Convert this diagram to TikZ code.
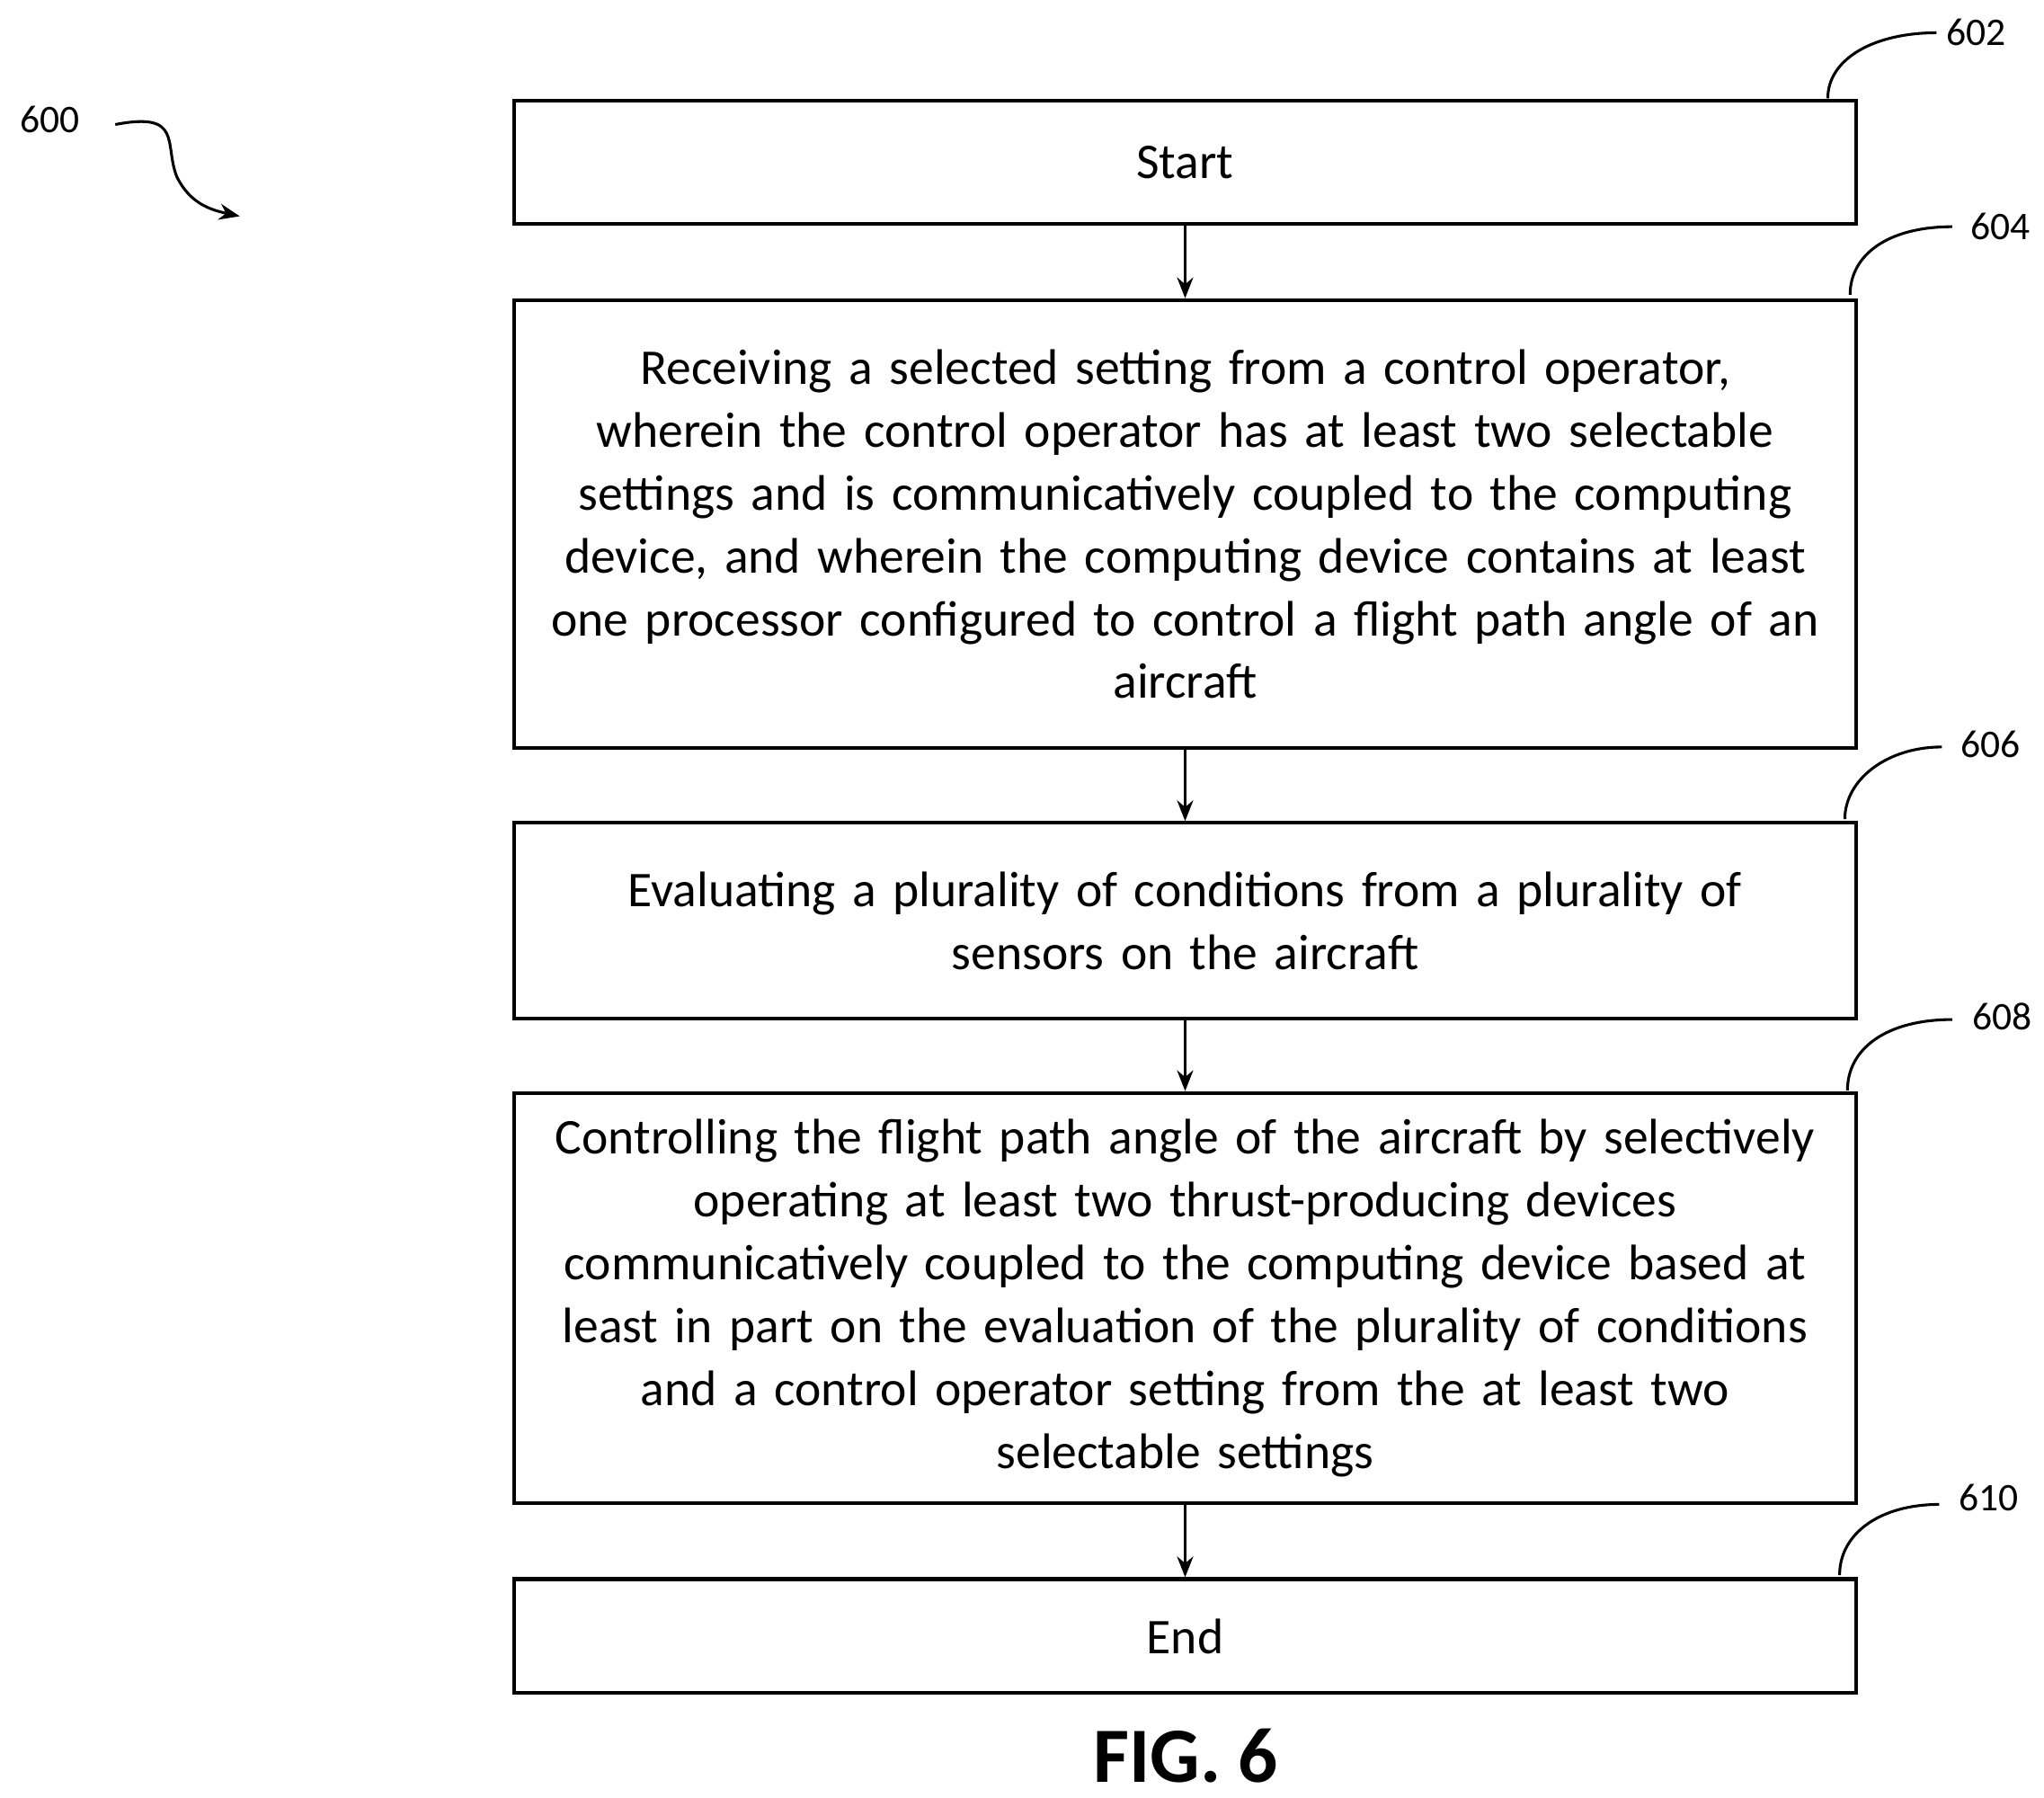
\documentclass[tikz,border=0pt]{standalone}
\usepackage{fontspec}
\setmainfont{Carlito}
\usetikzlibrary{arrows.meta}
\begin{document}
\begin{tikzpicture}[x=0.02cm,y=-0.02cm,
  box/.style={draw,line width=1.6pt,minimum width=20.5cm,align=center,text width=19.9cm,font=\fontsize{21.7}{27.3}\selectfont,inner sep=0pt},
  lbl/.style={font=\fontsize{17}{20}\selectfont},
  arr/.style={-{Stealth[length=9pt,width=7pt]},line width=1.4pt},
  lead/.style={line width=1.2pt}]
\useasboundingbox (0,0) rectangle (1560,1372);
\node[box,minimum height=94*0.02cm] (s) at (904.5,124) {Start};
\node[box,minimum height=342*0.02cm] (a) at (904.5,400) {Receiving a selected setting from a control operator,\\ wherein the control operator has at least two selectable\\ settings and is communicatively coupled to the computing\\ device, and wherein the computing device contains at least\\ one processor configured to control a flight path angle of an\\ aircraft};
\node[box,minimum height=149*0.02cm] (b) at (904.5,702.5) {Evaluating a plurality of conditions from a plurality of\\ sensors on the aircraft};
\node[box,minimum height=313*0.02cm] (c) at (904.5,990.5) {Controlling the flight path angle of the aircraft by selectively\\ operating at least two thrust-producing devices\\ communicatively coupled to the computing device based at\\ least in part on the evaluation of the plurality of conditions\\ and a control operator setting from the at least two\\ selectable settings};
\node[box,minimum height=87*0.02cm] (e) at (904.5,1248.5) {End};
\draw[arr] (s) -- (a);
\draw[arr] (a) -- (b);
\draw[arr] (b) -- (c);
\draw[arr] (c) -- (e);
\node[lbl] (l600) at (38,91) {600};
\node[lbl] (l602) at (1508,25) {602};
\node[lbl] (l604) at (1527,173) {604};
\node[lbl] (l606) at (1519,568) {606};
\node[lbl] (l608) at (1528,776) {608};
\node[lbl] (l610) at (1518,1143) {610};
\draw[lead] (1395,75) .. controls (1395,45) and (1430,25) .. (1478,25);
\draw[lead] (1412,225) .. controls (1412,195) and (1440,173) .. (1490,173);
\draw[lead] (1408,625) .. controls (1408,595) and (1440,570) .. (1482,570);
\draw[lead] (1410,832) .. controls (1410,800) and (1440,778) .. (1490,778);
\draw[lead] (1404,1202) .. controls (1404,1170) and (1435,1148) .. (1480,1148);
\draw[lead,-{Stealth[length=9pt,width=7pt]}] (88,95) .. controls (140,85) and (125,110) .. (135,135) .. controls (145,155) and (160,160) .. (183,165);
\node[font=\fontsize{34}{38}\selectfont\bfseries] (fig) at (905,1340) {FIG. 6};
\end{tikzpicture}
\end{document}
